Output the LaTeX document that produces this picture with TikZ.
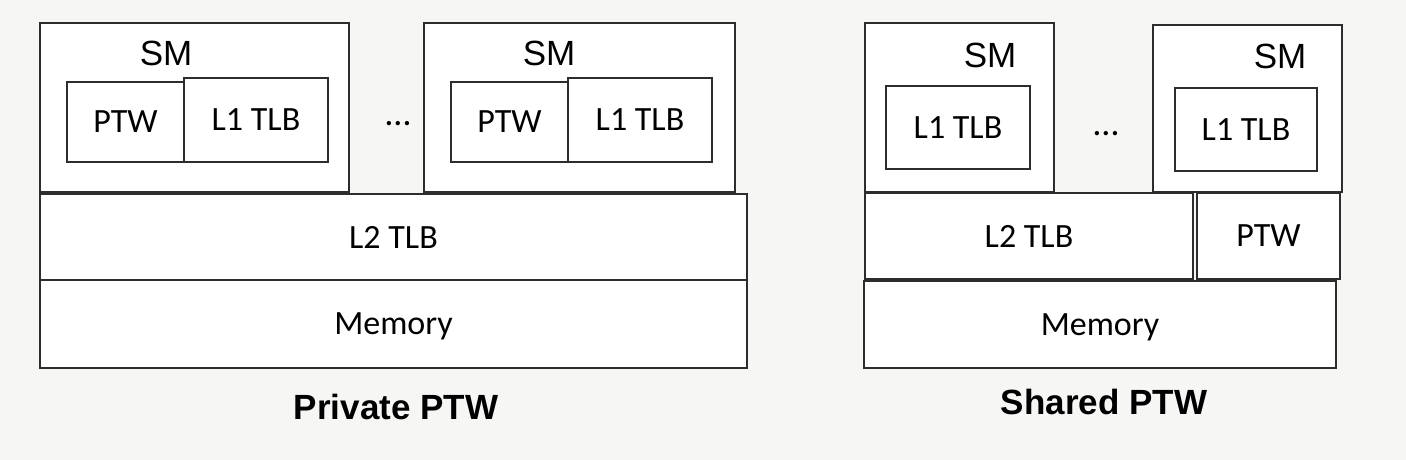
\documentclass[tikz,border=0pt]{standalone}
\usepackage{fontspec}
\setmainfont{Carlito}
\newfontfamily\smfont{Liberation Sans}
\usetikzlibrary{positioning}

\definecolor{bgcol}{RGB}{246,246,245}
\definecolor{edgecol}{RGB}{45,45,45}

\tikzset{
  box/.style={draw=edgecol, line width=1.2pt, fill=white, inner sep=0pt,
    text depth=0pt, font=\fontsize{34}{38}\selectfont},
  smlabel/.style={font=\smfont\fontsize{35}{40}\selectfont},
  caption/.style={font=\smfont\bfseries\fontsize{35}{40}\selectfont},
  dotslabel/.style={font=\fontsize{36}{40}\selectfont}
}

\begin{document}
\begin{tikzpicture}[x=1pt,y=-1pt]
    \fill[bgcol] (0,0) rectangle (1406,460);
    \useasboundingbox (0,0) rectangle (1406,460);

    % private PTW
    \node[box, minimum width=309pt, minimum height=169pt] (sma) at (194.5,107.5) {};
    \node[box, minimum width=311pt, minimum height=169pt] (smb) at (579.5,107.5) {};
    \node[smlabel] (smtexta) at (166,53) {SM};
    \node[smlabel] (smtextb) at (549,53) {SM};
    \node[box, minimum width=117pt, minimum height=80pt] (ptwa) at (125.5,122) {PTW};
    \node[box, minimum width=144pt, minimum height=84pt] (tlba) at (256,120) {L1 TLB};
    \node[box, minimum width=117pt, minimum height=80pt] (ptwb) at (509.5,122) {PTW};
    \node[box, minimum width=144pt, minimum height=84pt] (tlbb) at (640,120) {L1 TLB};
    \node[dotslabel] (dotsa) at (398,124) {\dots};
    \node[box, minimum width=707pt, minimum height=86pt] (ltwo) at (393.5,237) {L2 TLB};
    \node[box, minimum width=707pt, minimum height=88pt] (mem) at (393.5,324) {Memory};
    \node[caption] (privcap) at (396,407) {Private PTW};

    % shared PTW
    \node[box, minimum width=189pt, minimum height=169pt] (smc) at (959.5,107.5) {};
    \node[box, minimum width=189pt, minimum height=167pt] (smd) at (1247.5,108.5) {};
    \node[smlabel] (smtextc) at (990,55) {SM};
    \node[smlabel] (smtextd) at (1280,56) {SM};
    \node[box, minimum width=144pt, minimum height=83pt] (tlbc) at (958,127.5) {L1 TLB};
    \node[box, minimum width=142pt, minimum height=83pt] (tlbd) at (1246,129.5) {L1 TLB};
    \node[dotslabel] (dotsb) at (1106,134) {\dots};
    \node[box, minimum width=328pt, minimum height=86pt] (ltwos) at (1029,236) {L2 TLB};
    \node[box, minimum width=143pt, minimum height=86pt] (ptws) at (1268.5,236) {PTW};
    \node[box, minimum width=472pt, minimum height=87pt] (mems) at (1100,324.5) {Memory};
    \node[caption] (sharcap) at (1104,402) {Shared PTW};
\end{tikzpicture}
\end{document}
